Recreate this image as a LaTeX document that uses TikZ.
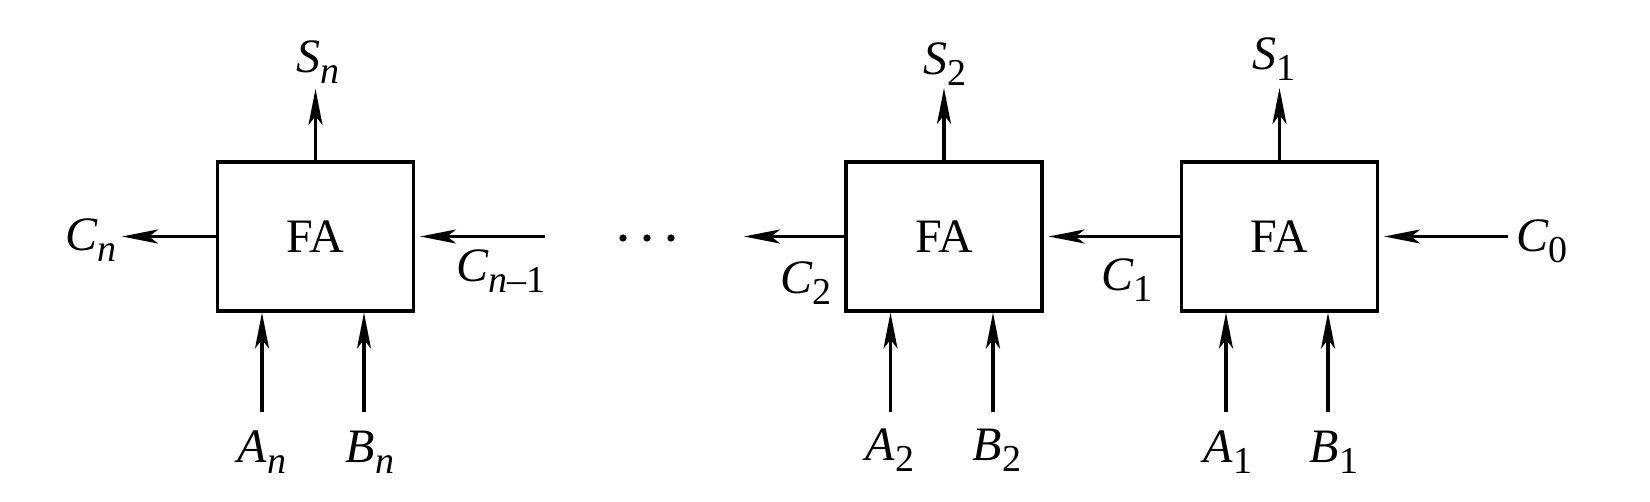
\documentclass[tikz,border=0pt]{standalone}
\usepackage{fontspec}
\setmainfont{Liberation Serif}[ItalicFont={Liberation Serif Italic}]
\usetikzlibrary{arrows.meta}
\newcommand{\lbl}[2]{\textit{#1}\raisebox{-5.5pt}{\fontsize{19}{19}\selectfont #2}}
\begin{document}
\begin{tikzpicture}[x=0.5pt,y=-0.5pt,
  fabox/.style={draw,line width=1.6pt,minimum width=98pt,minimum height=74.5pt,inner sep=0pt,font=\fontsize{24}{24}\selectfont},
  lab/.style={inner sep=0pt,font=\fontsize{24}{24}\selectfont},
  sig/.style={line width=1.6pt,-{Stealth[length=18pt,width=7pt,inset=4.5pt]}},
  sigin/.style={sig,shorten >=2.5pt}]
\useasboundingbox (0,0) rectangle (1650,502);
% boxes
\node[fabox] (fan) at (315.5,236.5) {FA};
\node[fabox] (fa2) at (944,236.5) {FA};
\node[fabox] (fa1) at (1279.5,236.5) {FA};
% end coordinates
\coordinate (sn) at (315.5,89);
\coordinate (s2) at (944,88);
\coordinate (s1) at (1279.5,88);
\coordinate (an) at (262,412);
\coordinate (bn) at (364,412);
\coordinate (a2) at (890.5,412);
\coordinate (b2) at (993,412);
\coordinate (a1) at (1226,412);
\coordinate (b1) at (1328,412);
\coordinate (cn) at (122,236.5);
\coordinate (cnm) at (545,236.5);
\coordinate (c2) at (744,236.5);
\coordinate (c0) at (1508,236.5);
% outputs
\draw[sig] (fan.north) -- (sn);
\draw[sig] (fa2.north) -- (s2);
\draw[sig] (fa1.north) -- (s1);
\draw[sig] (fan.west) -- (cn);
\draw[sig] (fa2.west) -- (c2);
% inputs
\draw[sig] (an) -- (an |- fan.south);
\draw[sig] (bn) -- (bn |- fan.south);
\draw[sig] (a2) -- (a2 |- fa2.south);
\draw[sig] (b2) -- (b2 |- fa2.south);
\draw[sig] (a1) -- (a1 |- fa1.south);
\draw[sig] (b1) -- (b1 |- fa1.south);
\draw[sigin] (cnm) -- (fan.east);
\draw[sigin] (fa1.west) -- (fa2.east);
\draw[sigin] (c0) -- (fa1.east);
% labels
\node[lab] (lsn) at (318,62) {\lbl{S}{\textit{n}}};
\node[lab] (ls2) at (945,64) {\lbl{S}{2}};
\node[lab] (ls1) at (1274,59) {\lbl{S}{1}};
\node[lab] (lcn) at (91,240) {\lbl{C}{\textit{n}}};
\node[lab] (lcnm) at (501,271) {\lbl{C}{\textit{n}–1}};
\node[lab] (lc2) at (806,283) {\lbl{C}{2}};
\node[lab] (lc1) at (1127,280) {\lbl{C}{1}};
\node[lab] (lc0) at (1542,241) {\lbl{C}{0}};
\node[lab] (lan) at (262,452) {\lbl{A}{\textit{n}}};
\node[lab] (lbn) at (370,452) {\lbl{B}{\textit{n}}};
\node[lab] (la2) at (890,450) {\lbl{A}{2}};
\node[lab] (lb2) at (997,450) {\lbl{B}{2}};
\node[lab] (la1) at (1228,452) {\lbl{A}{1}};
\node[lab] (lb1) at (1334,452) {\lbl{B}{1}};
% dots
\fill (623,238) circle (1.8pt);
\fill (647,238) circle (1.8pt);
\fill (671,238) circle (1.8pt);
\end{tikzpicture}
\end{document}
